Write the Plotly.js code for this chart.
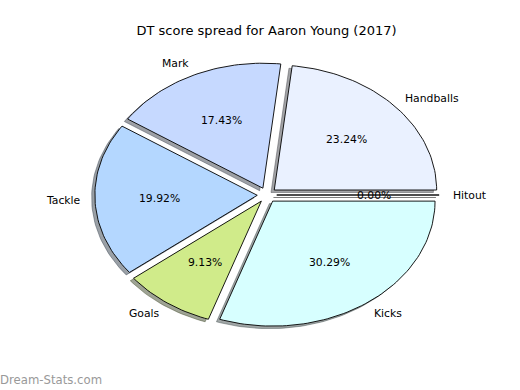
<!DOCTYPE html>
<html>
<head>
<meta charset="utf-8">
<script src="https://cdn.plot.ly/plotly-3.0.1.min.js"></script>
<style>html,body{margin:0;padding:0;background:#fff;}#chart{width:520px;height:390px;}</style>
</head>
<body>
<div id="chart"></div>
<script>
// ---- data ----
const categories = ["Handballs", "Mark", "Tackle", "Goals", "Kicks", "Hitout"];
const values = [23.24, 17.43, 19.92, 9.13, 30.29, 0.00];
const colors = ["#eaf1ff", "#c6d9ff", "#b4d7ff", "#d0eb8a", "#d7ffff", "#eeeeee"];
const explode = [0.06, 0.06, 0.06, 0.06, 0.06, 0.06];
const chartTitle = "DT score spread for Aaron Young (2017)";
const watermark = "Dream-Stats.com";

// ---- geometry (pie of radius 1, counter-clockwise from 0 deg) ----
const total = values.reduce((a, b) => a + b, 0);
const shadowOff = [-0.02, -0.02];
const labelDist = 1.1, pctDist = 0.6;
const FONT = "DejaVu Sans, sans-serif";

function hexToRgb(h) {
  const n = parseInt(h.slice(1), 16);
  return [(n >> 16) & 255, (n >> 8) & 255, n & 255];
}

const wedges = [];
let start = 0;
values.forEach((v, i) => {
  const frac = v / total;
  const t1 = start, t2 = start + 360 * frac;
  const mid = (t1 + t2) / 2 * Math.PI / 180;
  const cx = explode[i] * Math.cos(mid), cy = explode[i] * Math.sin(mid);
  const xs = [cx], ys = [cy];
  const n = Math.max(2, Math.ceil((t2 - t1) / 1.5));
  for (let k = 0; k <= n; k++) {
    const t = (t1 + (t2 - t1) * k / n) * Math.PI / 180;
    xs.push(cx + Math.cos(t));
    ys.push(cy + Math.sin(t));
  }
  xs.push(cx); ys.push(cy);
  wedges.push({xs, ys, cx, cy, mid, frac, i});
  start = t2;
});

const traces = [];
// shadows first (below all wedges)
wedges.forEach(w => {
  const rgb = hexToRgb(colors[w.i]).map(c => Math.round(c * 0.3));
  const col = `rgba(${rgb[0]},${rgb[1]},${rgb[2]},0.5)`;
  traces.push({
    type: "scatter", mode: "lines",
    x: w.xs.map(x => x + shadowOff[0]), y: w.ys.map(y => y + shadowOff[1]),
    fill: "toself", fillcolor: col,
    line: {color: col, width: 0.9},
    hoverinfo: "skip", showlegend: false
  });
});
wedges.forEach(w => {
  traces.push({
    type: "scatter", mode: "lines",
    x: w.xs, y: w.ys,
    fill: "toself", fillcolor: colors[w.i],
    line: {color: "#000000", width: 0.9},
    hoverinfo: "skip", showlegend: false
  });
});

const annotations = [];
wedges.forEach(w => {
  const lx = w.cx + labelDist * Math.cos(w.mid);
  const ly = w.cy + labelDist * Math.sin(w.mid);
  const right = lx > 0;
  annotations.push({
    x: lx, y: ly, xref: "x", yref: "y", text: categories[w.i], showarrow: false,
    xanchor: right ? "left" : "right", yanchor: "middle",
    borderpad: 0, borderwidth: 0, xshift: right ? -2 : 2,
    font: {family: FONT, size: 10.8, color: "#000"}
  });
  const px = w.cx + pctDist * Math.cos(w.mid);
  const py = w.cy + pctDist * Math.sin(w.mid);
  annotations.push({
    x: px, y: py, xref: "x", yref: "y", text: (w.frac * 100).toFixed(2) + "%", showarrow: false,
    xanchor: "center", yanchor: "middle", borderpad: 0, borderwidth: 0,
    font: {family: FONT, size: 10.8, color: "#000"}
  });
});
annotations.push({
  x: 0, y: 1 - 380 / 390, xref: "paper", yref: "paper", text: watermark, showarrow: false,
  xanchor: "left", yanchor: "middle", borderpad: 0, borderwidth: 0,
  font: {family: FONT, size: 11.7, color: "#999999"}
});

// axis mapping: centre at pixel (267, 195), 162.4 px/unit in x, 125 px/unit in y
const W = 520, H = 390, pcx = 267, pcy = 195, sx = 162.4, sy = 125;
const layout = {
  width: W, height: H,
  margin: {l: 0, r: 0, t: 0, b: 0},
  paper_bgcolor: "#ffffff", plot_bgcolor: "#ffffff",
  showlegend: false,
  title: {
    text: chartTitle, x: 266.5 / W, xanchor: "center", y: 1 - 30 / H, yanchor: "middle",
    xref: "paper", yref: "container",
    font: {family: FONT, size: 13, color: "#000"}
  },
  xaxis: {range: [-pcx / sx, (W - pcx) / sx], visible: false, fixedrange: true},
  yaxis: {range: [-(H - pcy) / sy, pcy / sy], visible: false, fixedrange: true},
  annotations: annotations
};
Plotly.newPlot("chart", traces, layout, {staticPlot: true, displayModeBar: false});
</script>
</body>
</html>
